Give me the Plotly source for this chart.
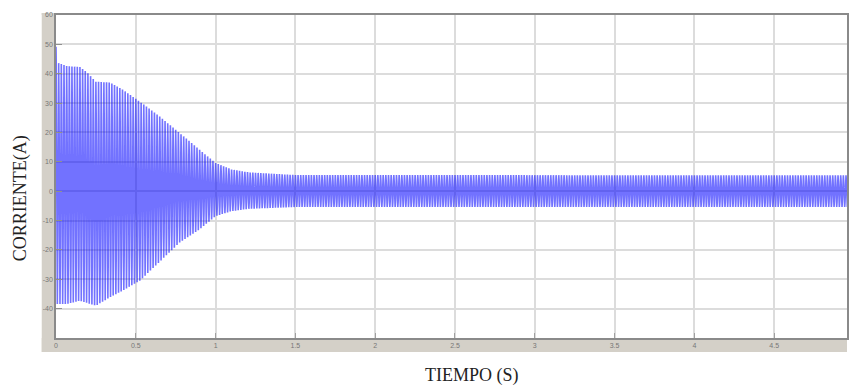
import numpy as np
import plotly.graph_objects as go

# Peak envelopes of the phase current (A) at selected instants (s)
env_t = [0.0, 0.012, 0.07, 0.15, 0.19, 0.25, 0.34, 0.42, 0.525, 0.65, 0.775, 0.9, 1.0, 1.1, 1.21, 1.5, 5.0]
env_upper = [49.2, 43.7, 42.6, 42.3, 40.7, 37.3, 37.0, 34.5, 30.5, 25.4, 19.8, 14.1, 9.6, 7.4, 6.4, 5.5, 5.4]
env_lower = [-38.4, -38.4, -38.4, -37.3, -38.0, -39.0, -36.1, -33.8, -30.5, -24.0, -17.5, -13.0, -8.5, -6.8, -6.0, -5.4, -5.4]
line_freq = 60.0  # Hz

x_ticks = [0, 0.5, 1, 1.5, 2, 2.5, 3, 3.5, 4, 4.5]
x_tick_text = ["0", "0.5", "1", "1.5", "2", "2.5", "3", "3.5", "4", "4.5"]
y_ticks = [-40, -30, -20, -10, 0, 10, 20, 30, 40, 50, 60]
y_tick_text = ["-40", "-30", "-20", "-10", "0", "10", "20", "30", "40", "50", "60"]

# Simulated current trace (fixed-step solver output)
t = np.arange(0.0, 5.0, 1.3e-4)
up = np.interp(t, env_t, env_upper)
lo = np.interp(t, env_t, env_lower)
current = (up + lo) / 2 + (up - lo) / 2 * np.cos(2 * np.pi * line_freq * t)

W, H = 849, 385
L, R, T, B = 56, 0, 14.5, 47
plot_w = W - L - R
plot_h = H - T - B


def px(xp):
    return (xp - L) / plot_w


def py(yp):
    return (H - B - yp) / plot_h


fig = go.Figure()
fig.add_trace(go.Scatter(
    x=t, y=current, mode="lines",
    line=dict(color="#0000ff", width=1.6),
    opacity=0.55, hoverinfo="skip", showlegend=False,
))

frame = "#d4d0c8"
shapes = [
    dict(type="rect", xref="paper", yref="paper", x0=px(41.7), x1=px(L), y0=py(352), y1=py(12.5),
         fillcolor=frame, line_width=0, layer="below"),
    dict(type="rect", xref="paper", yref="paper", x0=px(41.7), x1=1, y0=py(H - B), y1=py(352),
         fillcolor=frame, line_width=0, layer="below"),
    dict(type="rect", xref="paper", yref="paper", x0=px(41.7), x1=1, y0=py(12.5), y1=1,
         fillcolor=frame, line_width=0, layer="below"),
]

tick_font = dict(family="Liberation Sans, Arial, sans-serif", size=7, color="#777777")
fig.update_layout(
    width=W, height=H,
    margin=dict(l=L, r=R, t=T, b=B, pad=0),
    paper_bgcolor="white", plot_bgcolor="white",
    shapes=shapes,
    xaxis=dict(
        range=[0, plot_w / 160.0], tickvals=x_ticks, ticktext=x_tick_text,
        showgrid=True, gridcolor="#dcdcdc", gridwidth=1.5,
        showline=True, linecolor="#8a8a8a", linewidth=1.5, mirror=True,
        ticks="inside", ticklen=5, tickcolor="#a0a0a0", tickfont=tick_font,
        zeroline=False, fixedrange=True,
    ),
    yaxis=dict(
        range=[-50, 60], tickvals=y_ticks, ticktext=y_tick_text,
        showgrid=True, gridcolor="#dcdcdc", gridwidth=1.5,
        showline=True, linecolor="#8a8a8a", linewidth=1.5, mirror=True,
        ticks="inside", ticklen=6, tickcolor="#909090", tickfont=tick_font,
        zeroline=False, fixedrange=True,
    ),
    annotations=[
        dict(text="CORRIENTE(A)", xref="paper", yref="paper", x=px(20), y=py(198),
             textangle=-90, showarrow=False, xanchor="center", yanchor="middle",
             font=dict(family="Liberation Serif, Times New Roman, serif", size=18, color="#222222")),
        dict(text="TIEMPO (S)", xref="paper", yref="paper", x=px(473), y=py(376),
             showarrow=False, xanchor="center", yanchor="middle",
             font=dict(family="Liberation Serif, Times New Roman, serif", size=18, color="#222222")),
    ],
)

fig.write_html("out.html", config={"displayModeBar": False})
